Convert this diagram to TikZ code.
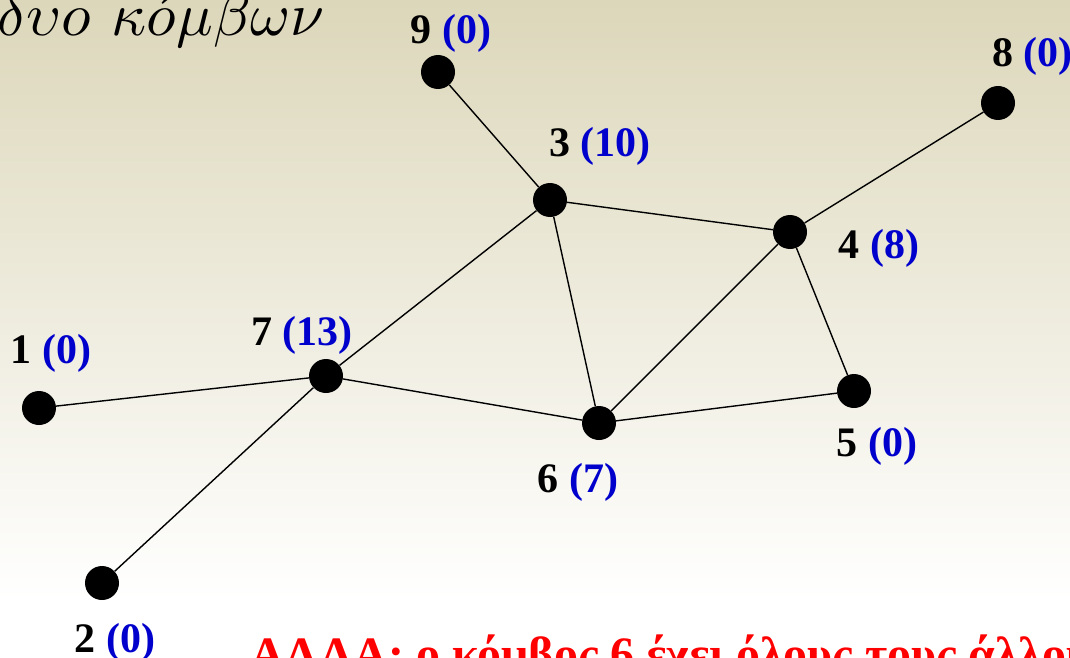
\documentclass[tikz,border=0pt]{standalone}
\usepackage{fontspec}
\newfontfamily\labfont{Liberation Serif}
\definecolor{bgtop}{RGB}{220,215,186}
\definecolor{numblue}{RGB}{0,0,204}
\definecolor{alertred}{RGB}{255,0,0}
\begin{document}
\begin{tikzpicture}[x=1pt,y=-1pt,
  vtx/.style={circle,fill=black,inner sep=0pt,minimum size=34pt},
  edge/.style={line width=1.4pt,black},
  lab/.style={anchor=base,inner sep=0pt,font=\labfont\bfseries\fontsize{42}{48}\selectfont}]
\useasboundingbox (0,0) rectangle (1070,658);
\clip (0,0) rectangle (1070,658);
\shade[top color=bgtop,bottom color=white] (0,0) rectangle (1070,600);
\fill[white] (0,599) rectangle (1070,658);
% nodes
\node[vtx] (n9) at (438,72) {};
\node[vtx] (n8) at (998,103) {};
\node[vtx] (n3) at (550,200) {};
\node[vtx] (n4) at (790,232) {};
\node[vtx] (n7) at (326,376) {};
\node[vtx] (n1) at (39,408) {};
\node[vtx] (n5) at (854,391) {};
\node[vtx] (n6) at (599,423) {};
\node[vtx] (n2) at (102,583) {};
% edges
\draw[edge] (n9) -- (n3);
\draw[edge] (n8) -- (n4);
\draw[edge] (n3) -- (n4);
\draw[edge] (n3) -- (n7);
\draw[edge] (n3) -- (n6);
\draw[edge] (n4) -- (n6);
\draw[edge] (n4) -- (n5);
\draw[edge] (n7) -- (n1);
\draw[edge] (n7) -- (n6);
\draw[edge] (n7) -- (n2);
\draw[edge] (n6) -- (n5);
% labels
\node[lab] (l9) at (451,44) {9 \textcolor{numblue}{(0)}};
\node[lab,anchor=base west] (l8) at (992,67) {8 \textcolor{numblue}{(0)}};
\node[lab] (l3) at (600,157) {3 \textcolor{numblue}{(10)}};
\node[lab] (l4) at (879,258) {4 \textcolor{numblue}{(8)}};
\node[lab] (l7) at (302,345) {7 \textcolor{numblue}{(13)}};
\node[lab] (l1) at (51,363) {1 \textcolor{numblue}{(0)}};
\node[lab] (l5) at (877,456) {5 \textcolor{numblue}{(0)}};
\node[lab] (l6) at (578,492) {6 \textcolor{numblue}{(7)}};
\node[lab] (l2) at (115,652) {2 \textcolor{numblue}{(0)}};
% title fragment
\node[anchor=base west,inner sep=0pt] (title) at (-3,36)
  {\scalebox{6.1}{$\delta\upsilon o\ \kappa\acute{o}\mu\beta\omega\nu$}};
% red note
\node[anchor=base west,inner sep=0pt,text=alertred,
  font=\labfont\bfseries\fontsize{48}{54}\selectfont] (note) at (250,670)
  {ΑΛΛΑ: ο κόμβος 6 έχει όλους τους άλλους};
\end{tikzpicture}
\end{document}
